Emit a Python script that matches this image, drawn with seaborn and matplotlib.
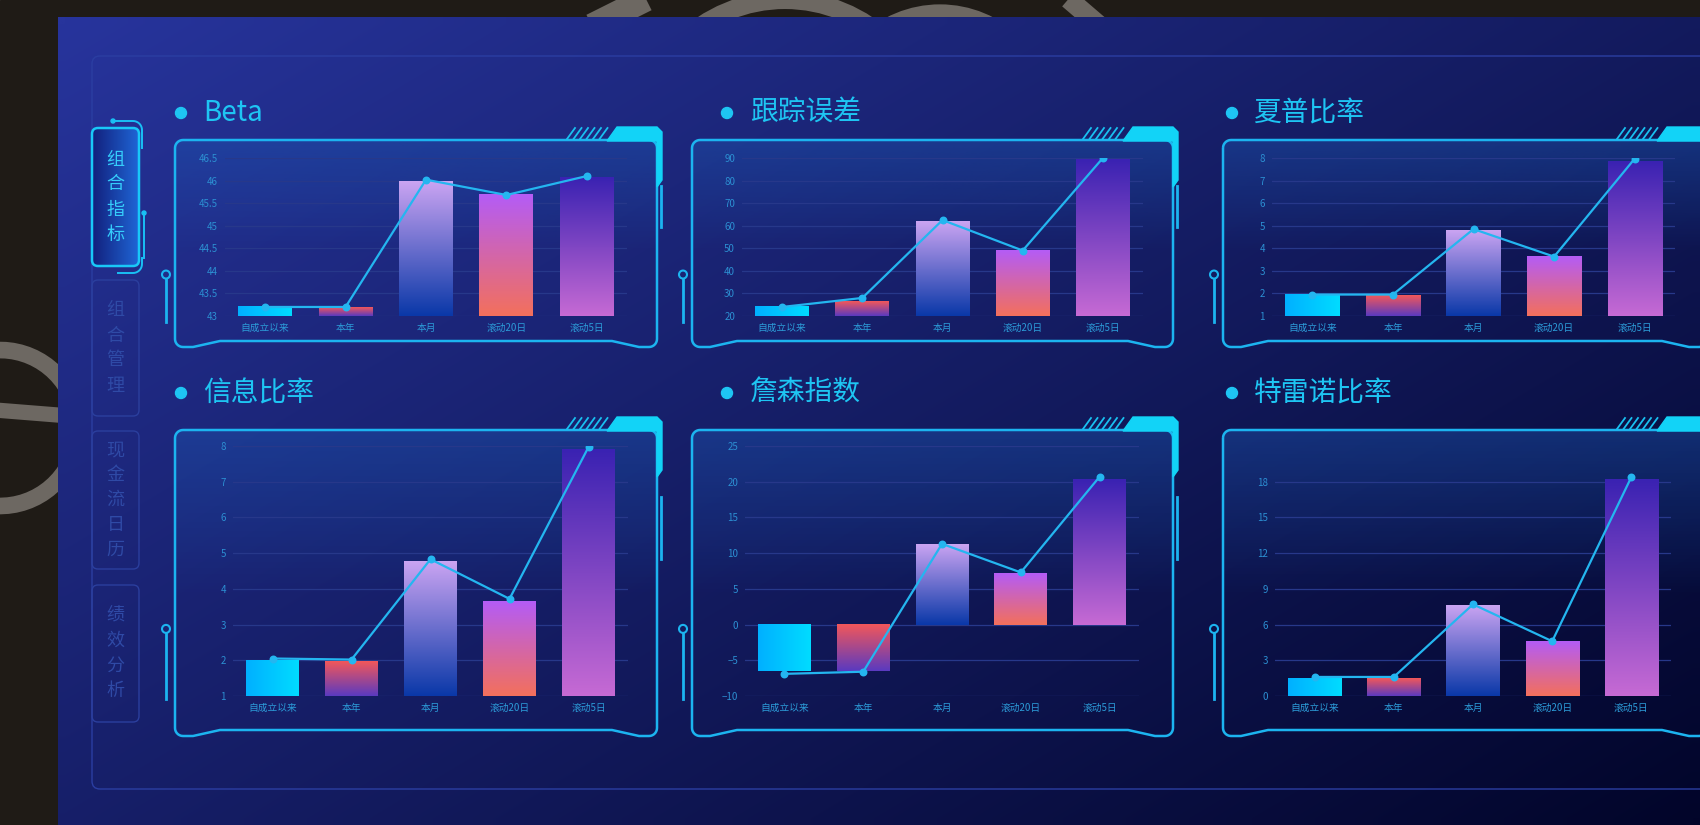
import numpy as np
import pandas as pd
import seaborn as sns
import matplotlib.pyplot as plt
from matplotlib.patches import FancyBboxPatch, Circle, Polygon, Rectangle
from matplotlib.colors import to_rgb

plt.rcParams['font.family'] = ['Noto Sans CJK SC', 'DejaVu Sans']

# ---- data ----
categories = ['自成立以来', '本年', '本月', '滚动20日', '滚动5日']
titles = ['Beta', '跟踪误差', '夏普比率', '信息比率', '詹森指数', '特雷诺比率']
menu_items = ['组合指标', '组合管理', '现金流日历', '绩效分析']

beta_bar = [43.2, 43.18, 45.98, 45.7, 46.07]
beta_line = [43.2, 43.2, 46.02, 45.68, 46.1]
te_bar = [24, 26.5, 62, 49, 89.5]
te_line = [24, 28, 62.5, 49, 90]
sharpe_bar = [1.95, 1.93, 4.8, 3.65, 7.85]
sharpe_line = [1.95, 1.95, 4.85, 3.63, 7.97]
info_bar = [2.0, 1.97, 4.78, 3.65, 7.9]
info_line = [2.05, 2.02, 4.83, 3.72, 7.97]
jensen_bar = [-6.5, -6.5, 11.3, 7.2, 20.4]
jensen_line = [-6.9, -6.6, 11.3, 7.3, 20.7]
treynor_bar = [1.5, 1.5, 7.6, 4.6, 18.2]
treynor_line = [1.6, 1.6, 7.7, 4.6, 18.4]

beta_ticks = [43, 43.5, 44, 44.5, 45, 45.5, 46, 46.5]
te_ticks = [20, 30, 40, 50, 60, 70, 80, 90]
ratio_ticks = [1, 2, 3, 4, 5, 6, 7, 8]
jensen_ticks = [-10, -5, 0, 5, 10, 15, 20, 25]
treynor_ticks = [0, 3, 6, 9, 12, 15, 18]
treynor_max = 21

panels = [
    (titles[0], beta_bar, beta_line, beta_ticks, (43, 46.5)),
    (titles[1], te_bar, te_line, te_ticks, (20, 90)),
    (titles[2], sharpe_bar, sharpe_line, ratio_ticks, (1, 8)),
    (titles[3], info_bar, info_line, ratio_ticks, (1, 8)),
    (titles[4], jensen_bar, jensen_line, jensen_ticks, (-10, 25)),
    (titles[5], treynor_bar, treynor_line, treynor_ticks, (0, treynor_max)),
]

# ---- style ----
border_c = '#1cb4f0'
tab_c = '#12d3f7'
title_c = '#1ec5f3'
tick_c = '#2c8fd2'
grid_c = '#27388a'
line_c = '#24b6f0'
bar_grads = [('h', '#00b0ff', '#00dcff'), ('v', '#f2575a', '#5a3ac0'),
             ('v', '#caa4f2', '#0a38a8'), ('v', '#b45cf6', '#f3705c'),
             ('v', '#3a22b2', '#c66ad4')]

W, H = 1700, 825
fig = plt.figure(figsize=(17, 8.25), dpi=100)
bg = fig.add_axes([0, 0, 1, 1])
bg.set_xlim(0, W)
bg.set_ylim(H, 0)
bg.axis('off')


def arc(cx, cy, r, a0, a1, n=8):
    t = np.radians(np.linspace(a0, a1, n))
    return list(zip(cx + r * np.cos(t), cy + r * np.sin(t)))


# outer dark frame + watermark fragments
bg.add_patch(Rectangle((0, 0), W, H, color='#1f1b16', zorder=0))
grey = '#6d6862'
e_pts = np.array(arc(0, 428, 78, 30, 350, 60))
bg.plot(e_pts[:, 0], e_pts[:, 1], color=grey, lw=12, zorder=1, solid_capstyle='butt')
bg.plot([-5, 70], [410, 416], color=grey, lw=11, zorder=1, solid_capstyle='butt')
bg.plot([592, 652], [26, -4], color=grey, lw=18, zorder=1, solid_capstyle='butt')
bg.add_patch(Circle((785, 150), 150, fill=False, ec=grey, lw=13, zorder=1))
bg.add_patch(Circle((940, 120), 108, fill=False, ec=grey, lw=11, zorder=1))
bg.plot([1065, 1100], [-4, 26], color=grey, lw=14, zorder=1, solid_capstyle='butt')

# blue dashboard gradient
ny, nx = 60, 120
yy, xx = np.mgrid[0:1:ny * 1j, 0:1:nx * 1j]
s = np.clip(0.55 * xx + 0.45 * yy, 0, 1)[..., None]
c0, c1 = np.array(to_rgb('#27349c')), np.array(to_rgb('#02052a'))
bg.imshow(c0 + (c1 - c0) * s, extent=(58, W, H, 17), origin='upper',
          aspect='auto', zorder=2, interpolation='bilinear')

# inner outline
bg.add_patch(FancyBboxPatch((92, 56), 1700, 733, boxstyle='round,pad=0,rounding_size=8',
                            fill=False, ec='#2b3ea2', lw=1, zorder=3))

# sidebar menu
tab_y = [(128, 266), (280, 416), (431, 569), (585, 722)]
for k, (name, (t0, t1)) in enumerate(zip(menu_items, tab_y)):
    active = k == 0
    box = FancyBboxPatch((92, t0), 47, t1 - t0, boxstyle='round,pad=0,rounding_size=6',
                         fc='none', ec='#19c8f8' if active else '#2b3f9e',
                         lw=1.8 if active else 1, zorder=5)
    bg.add_patch(box)
    if active:
        g = np.linspace(0, 1, 64)[None, :, None]
        ca, cb = np.array(to_rgb('#121f7c')), np.array(to_rgb('#1f66d6'))
        im = bg.imshow(ca + (cb - ca) * g, extent=(92, 139, t1, t0), origin='upper',
                       aspect='auto', zorder=4)
        im.set_clip_path(box)
    n = len(name)
    mid = (t0 + t1) / 2
    for j, ch in enumerate(name):
        bg.text(115.5, mid + (j - (n - 1) / 2) * 25, ch, ha='center', va='center',
                fontsize=13, color='#35cdfb' if active else '#2f4aa6', zorder=6)

# active tab ornaments
a = np.radians(np.linspace(270, 360, 10))
bg.plot(np.r_[113, 133 + 9 * np.cos(a), 142], np.r_[121, 130 + 9 * np.sin(a), 148],
        color='#19c0f5', lw=1.4, zorder=6)
bg.add_patch(Circle((113, 121), 2, color='#19c0f5', zorder=6))
bg.plot([144, 144], [213, 258], color='#19c0f5', lw=1.4, zorder=6)
bg.add_patch(Circle((144, 213), 2, color='#19c0f5', zorder=6))
a = np.radians(np.linspace(0, 90, 10))
bg.plot(np.r_[142, 133 + 9 * np.cos(a), 118], np.r_[258, 264 + 9 * np.sin(a), 273],
        color='#19c0f5', lw=1.4, zorder=6)


def outline(L, T, R, B, r=8):
    pts = arc(L + r, T + r, r, 180, 270) + arc(R - r, T + r, r, 270, 360)
    pts += arc(R - r, B - r, r, 0, 90)
    pts += [(R - 18, B), (R - 45, B - 6), (L + 45, B - 6), (L + 18, B)]
    pts += arc(L + r, B - r, r, 90, 180)
    return pts


col_lr = [(175, 657), (692, 1173), (1223, 1707)]
row_tb = [(140, 347), (430, 736)]
dot_x = [181, 727, 1232]
text_x = [203, 750, 1254]
title_y = [113, 393]
plot_boxes = [(225, 158, 627, 316), (742, 158, 1143, 316), (1272, 158, 1675, 316),
              (233, 446, 628, 696), (745, 446, 1139, 696), (1275, 446, 1671, 696)]

for i in range(6):
    r_i, c_i = divmod(i, 3)
    L, R = col_lr[c_i]
    T, B = row_tb[r_i]
    hp = B - T
    poly = Polygon(outline(L, T, R, B), closed=True, fill=False, ec=border_c, lw=1.8, zorder=6)
    bg.add_patch(poly)
    # soft light at the top of each card
    g = np.linspace(0, 1, 100)[:, None]
    rgba = np.zeros((100, 1, 4))
    rgba[..., :3] = to_rgb('#1c58b4')
    rgba[..., 3] = np.clip(0.42 * (1 - g / 0.55), 0, None)
    im = bg.imshow(rgba, extent=(L, R, B, T), origin='upper', aspect='auto', zorder=4)
    im.set_clip_path(poly)
    # corner tab + hatch
    bg.add_patch(Polygon([(R - 50, T + 1), (R - 40, T - 13), (R, T - 13), (R + 5, T - 8),
                          (R + 5, T + 40), (R, T + 47), (R, T + 1)],
                         closed=True, color=tab_c, zorder=6))
    for k in range(6):
        x0 = R - 90 + k * 6.5
        bg.plot([x0, x0 + 8], [T - 1, T - 12], color='#19c0f0', lw=1.3, zorder=6)
    bg.plot([R + 4, R + 4], [T + 0.22 * hp, T + 0.42 * hp], color=border_c, lw=2, zorder=6)
    # pin on the left
    cy = T + 0.65 * hp
    bg.add_patch(Circle((L - 9, cy), 4, fill=False, ec=border_c, lw=1.5, zorder=6))
    bg.plot([L - 9, L - 9], [cy + 4, T + 0.88 * hp], color=border_c, lw=2, zorder=6)
    # title
    bg.add_patch(Circle((dot_x[c_i], title_y[r_i]), 5.5, color=title_c, zorder=6))
    bg.text(text_x[c_i], title_y[r_i], panels[i][0], fontsize=20, color=title_c,
            fontweight='light', va='center', ha='left', zorder=6)

bg.set_xlim(0, W)
bg.set_ylim(H, 0)


def grad_img(kind, ca, cb, n=128):
    t = np.linspace(0, 1, n)
    ca, cb = np.array(to_rgb(ca)), np.array(to_rgb(cb))
    if kind == 'h':
        return (ca + (cb - ca) * t[:, None])[None, :, :]
    # vertical: row 0 is the bottom (origin='lower'), ca is the top colour
    return (cb + (ca - cb) * t[:, None])[:, None, :]


for i, (title, bars, line, ticks, (y0, y1)) in enumerate(panels):
    l, t, r, b = plot_boxes[i]
    ax = fig.add_axes([l / W, 1 - b / H, (r - l) / W, (b - t) / H])
    ax.set_facecolor('none')
    df = pd.DataFrame({'cat': categories, 'bar': bars, 'line': line})
    sns.barplot(data=df, x='cat', y='bar', ax=ax, width=0.67, color='white', saturation=1)
    for j, p in enumerate(sorted(ax.patches, key=lambda q: q.get_x())):
        x = p.get_x()
        w = p.get_width()
        lo, hi = sorted([p.get_y(), p.get_y() + p.get_height()])
        lo, hi = max(lo, y0), min(hi, y1)
        p.set_facecolor('none')
        p.set_edgecolor('none')
        ax.imshow(grad_img(*bar_grads[j]), extent=(x, x + w, lo, hi), origin='lower',
                  aspect='auto', zorder=2, interpolation='bilinear')
    sns.pointplot(data=df, x='cat', y='line', ax=ax, color=line_c, markers='o',
                  markersize=4.5, linewidth=1.6, errorbar=None)
    for ln in ax.lines:
        ln.set_zorder(5)
    ax.set_xlim(-0.5, 4.5)
    ax.set_ylim(y0, y1)
    ax.set_yticks(ticks)
    ax.set_yticklabels(['{:g}'.format(v).replace('-', '\u2212') for v in ticks])
    ax.set_xlabel('')
    ax.set_ylabel('')
    ax.set_axisbelow(True)
    ax.grid(axis='y', color=grid_c, lw=0.9)
    ax.grid(axis='x', visible=False)
    for sp in ax.spines.values():
        sp.set_visible(False)
    ax.tick_params(axis='y', length=0, pad=5, labelsize=7, labelcolor=tick_c)
    ax.tick_params(axis='x', length=0, pad=5, labelsize=7, labelcolor='#2c9bd8')

fig.savefig('out.png', dpi=100)
